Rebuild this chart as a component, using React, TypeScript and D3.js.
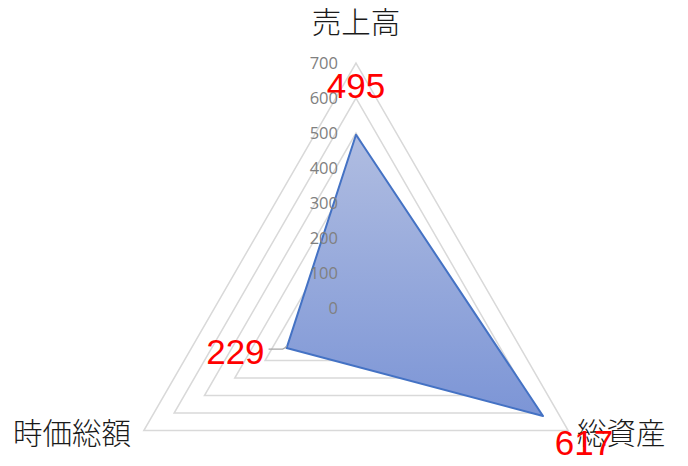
import { useEffect } from 'react';
import * as d3 from 'd3';

const categories = ['売上高', '総資産', '時価総額'];
const values = [495, 617, 229];
const ticks = [0, 100, 200, 300, 400, 500, 600, 700];

const W = 688;
const H = 466;
const cx = 356;
const cy = 308;

export default function App() {
  useEffect(() => {
    document.body.style.margin = '0';
  }, []);

  const r = d3.scaleLinear().domain([0, 700]).range([0, 245]);
  const angle = d3.scaleLinear().domain([0, categories.length]).range([0, 2 * Math.PI]);

  const ring = d3.lineRadial<number>()
    .angle((_, i) => angle(i))
    .radius(d => r(d))
    .curve(d3.curveLinearClosed);

  const pt = (i: number, v: number) => {
    const a = angle(i) - Math.PI / 2;
    return [cx + r(v) * Math.cos(a), cy + r(v) * Math.sin(a)];
  };

  // label offsets (data labels / category labels)
  const dataOffsets = [
    { dx: 0, dy: -49, anchor: 'middle' },
    { dx: 41, dy: 26, anchor: 'middle' },
    { dx: -22, dy: 3, anchor: 'end' },
  ];
  const catPos = [
    { x: cx, y: 22, anchor: 'middle' },
    { x: 577, y: 433, anchor: 'start' },
    { x: 13, y: 433, anchor: 'start' },
  ];

  const p229 = pt(2, values[2]);

  return (
    <svg width={W} height={H} style={{ display: 'block', background: '#fff' }}>
      <defs>
        <linearGradient id="fillGrad" x1="0" y1="0" x2="0" y2="1">
          <stop offset="0" stopColor="#b0bde1" />
          <stop offset="1" stopColor="#7c95d6" />
        </linearGradient>
      </defs>
      <g transform={`translate(${cx},${cy})`}>
        {ticks.slice(1).map(t => (
          <path
            key={t}
            d={ring(categories.map(() => t)) || ''}
            fill="none"
            stroke="#d9d9d9"
            strokeWidth={1.5}
          />
        ))}
        <path
          d={ring(values) || ''}
          fill="url(#fillGrad)"
          stroke="#4472c4"
          strokeWidth={2}
          strokeLinejoin="round"
        />
      </g>
      {ticks.map(t => (
        <text
          key={t}
          x={cx - 18}
          y={cy - r(t)}
          dy="0.35em"
          textAnchor="end"
          fill="#808080"
          fontSize={16.5}
          fontFamily="'Open Sans', sans-serif"
        >
          {t}
        </text>
      ))}
      <path
        d={`M${p229[0] - 18},${p229[1] + 1}L${p229[0] - 4},${p229[1] + 1}Q${p229[0] - 1},${p229[1]} ${p229[0]},${p229[1] - 2}`}
        fill="none"
        stroke="#a6a6a6"
        strokeWidth={1.2}
      />
      {categories.map((c, i) => (
        <text
          key={c}
          x={catPos[i].x}
          y={catPos[i].y}
          dy="0.36em"
          textAnchor={catPos[i].anchor}
          fontSize={29.5}
          fill="#1a1a1a"
          fontFamily="'Noto Sans CJK JP', sans-serif"
          fontWeight={300}
        >
          {c}
        </text>
      ))}
      {values.map((v, i) => {
        const [x, y] = pt(i, v);
        return (
          <text
            key={i}
            x={x + dataOffsets[i].dx}
            y={y + dataOffsets[i].dy}
            dy="0.36em"
            textAnchor={dataOffsets[i].anchor}
            fontSize={35}
            fill="#ff0000"
            fontFamily="'Liberation Sans', sans-serif"
          >
            {v}
          </text>
        );
      })}
    </svg>
  );
}
